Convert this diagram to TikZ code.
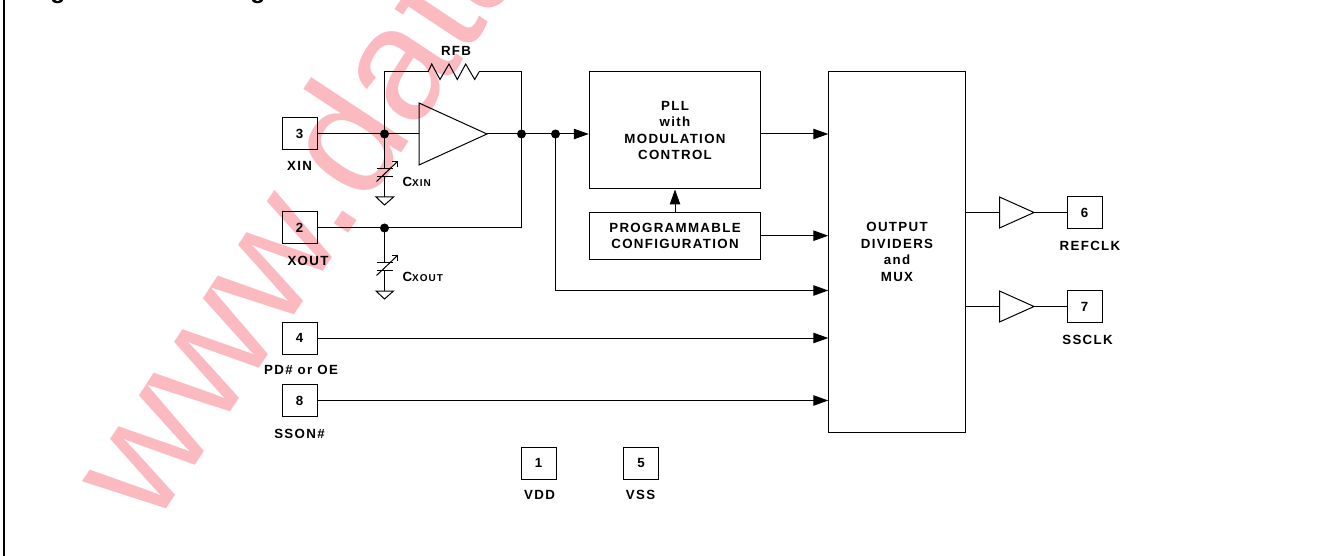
\documentclass[tikz,border=0pt]{standalone}
\usepackage{fontspec}
\setmainfont{Liberation Sans}[LetterSpace=10]
\newfontfamily\markfont{Liberation Sans}
\usetikzlibrary{arrows.meta}
\definecolor{markpink}{HTML}{FBB9C0}
\newcommand{\lblfont}{\fontsize{13.3}{16.6}\selectfont\bfseries}
\begin{document}
\begin{tikzpicture}[x=1pt,y=-1pt,line width=1pt,
    pinbox/.style={draw,minimum width=35pt,minimum height=32pt,inner sep=0pt,font=\lblfont},
    blockbox/.style={draw,inner sep=0pt,align=center,font=\lblfont},
    lbl/.style={inner sep=0pt,align=center,font=\lblfont},
    sig/.style={-{Triangle[length=15pt,width=10.5pt]}}]
    \useasboundingbox (0,0) rectangle (1339,556);
    \clip (0,0) rectangle (1339,556);
    % watermark and cut title
    \node (mark) at (153,529)[anchor=base west,rotate=56.5,inner sep=0pt,text=markpink,font=\markfont\fontsize{161}{165}\selectfont]{www.data};
    \node (titleA) at (58,-1)[anchor=base,inner sep=0pt,font=\fontsize{24.6}{26}\selectfont\bfseries]{g};
    \node (titleB) at (258,-1)[anchor=base,inner sep=0pt,font=\fontsize{24.6}{26}\selectfont\bfseries]{g};
    \coordinate (frameT) at (4,0);
    \coordinate (frameB) at (4,556);
    \draw[line width=2.2pt] (frameT)--(frameB);
    % pins
    \node (pin3) at (299.5,134)[pinbox]{3};
    \node (pin2) at (299.5,228)[pinbox]{2};
    \node (pin4) at (299.5,338)[pinbox]{4};
    \node (pin8) at (299.5,400.5)[pinbox]{8};
    \node (pin1) at (538.5,463)[pinbox]{1};
    \node (pin5) at (641,463)[pinbox]{5};
    \node (pin6) at (1084.5,212.5)[pinbox]{6};
    \node (pin7) at (1084.5,306.5)[pinbox]{7};
    \node (lblxin) at (299.5,165.5)[lbl]{XIN};
    \node (lblxout) at (308,260.5)[lbl]{XOUT};
    \node (lblpd) at (301,369.5)[lbl]{PD\# or OE};
    \node (lblsson) at (299.5,433.5)[lbl]{SSON\#};
    \node (lblvdd) at (539.5,494.5)[lbl]{VDD};
    \node (lblvss) at (640.5,494.5)[lbl]{VSS};
    \node (lblref) at (1090,245.5)[lbl]{REFCLK};
    \node (lblss) at (1087.5,339.5)[lbl]{SSCLK};
    \node (lblrfb) at (456,51)[lbl]{RFB};
    \node (lblcxin) at (402,187)[lbl,anchor=base west]{C{\fontsize{10}{11}\selectfont XIN}};
    \node (lblcxout) at (402,281.7)[lbl,anchor=base west]{C{\fontsize{10}{11}\selectfont XOUT}};
    % blocks
    \node (pll) at (675,130.5)[blockbox,minimum width=171.5pt,minimum height=117pt]{PLL\\with\\MODULATION\\CONTROL};
    \node (config) at (675,236)[blockbox,minimum width=171.5pt,minimum height=46.5pt]{PROGRAMMABLE\\CONFIGURATION};
    \node (outbox) at (897,252)[blockbox,minimum width=136.5pt,minimum height=360pt]{OUTPUT\\DIVIDERS\\and\\MUX};
    % junctions
    \coordinate (A) at (384.5,134);
    \coordinate (B) at (521.5,134);
    \coordinate (C) at (555.5,134);
    \coordinate (D) at (384.5,228);
    \coordinate (E) at (555.5,290.5);
    \coordinate (F) at (521.5,72);
    \coordinate (G) at (384.5,72);
    \coordinate (H) at (521.5,228);
    \coordinate (K) at (675,235.7);
    % amplifier and feedback
    \coordinate (ampL) at (419,134);
    \coordinate (ampT) at (487,134);
    \coordinate (rfbL) at (428,72);
    \coordinate (rfbR) at (479,72);
    \draw (419,103)--(ampT)--(419,165)--cycle;
    \draw (pin3)--(ampL);
    \draw (ampT)--(C);
    \draw (pin2)--(H)--(F)--(rfbR);
    \draw (rfbL)--(G)--(A);
    \draw (rfbL)--(431.7,64)--(440,79.5)--(449,64)--(457.3,79.5)--(465.7,64)--(474.7,79.5)--(rfbR);
    % trimming capacitors
    \foreach \n/\y/\s in {capA/134/A,capB/228/D}{
        \coordinate (\n T) at (384.5,\y+35);
        \coordinate (\n B) at (384.5,\y+43);
        \coordinate (\n G) at (384.5,\y+63);
        \draw (\s)--(\n T);
        \draw (\n B)--(\n G);
        \draw (376.5,\y+35)--(393,\y+35);
        \draw (376.5,\y+43)--(393,\y+43);
        \draw (376.5,\y+47.5)--(397.5,\y+27.5);
        \draw (392,\y+27.5)--(397.5,\y+27.5)--(397.5,\y+33);
        \draw (376,\y+63)--(393.5,\y+63)--(384.5,\y+71)--cycle;
    }
    % signals into the blocks
    \draw[sig] (C)--(pll.west |- C);
    \draw[sig] (pll.east |- C)--(outbox.west |- C);
    \draw[sig] (config.north)--(pll.south);
    \draw[sig] (config.east |- K)--(outbox.west |- K);
    \draw[sig] (C)--(E)--(outbox.west |- E);
    \draw[sig] (pin4)--(outbox.west |- pin4);
    \draw[sig] (pin8)--(outbox.west |- pin8);
    % output buffers
    \foreach \n/\y in {6/212.5,7/306.5}{
        \coordinate (bufL\n) at (999.5,\y);
        \coordinate (bufT\n) at (1034,\y);
        \draw (999.5,\y-15.5)--(bufT\n)--(999.5,\y+15.5)--cycle;
        \draw (outbox.east |- bufL\n)--(bufL\n);
        \draw (bufT\n)--(pin\n);
    }
    \foreach \n in {A,B,C,D}
        \node (dot\n) at (\n)[circle,fill,inner sep=0pt,minimum size=9pt]{};
\end{tikzpicture}
\end{document}
